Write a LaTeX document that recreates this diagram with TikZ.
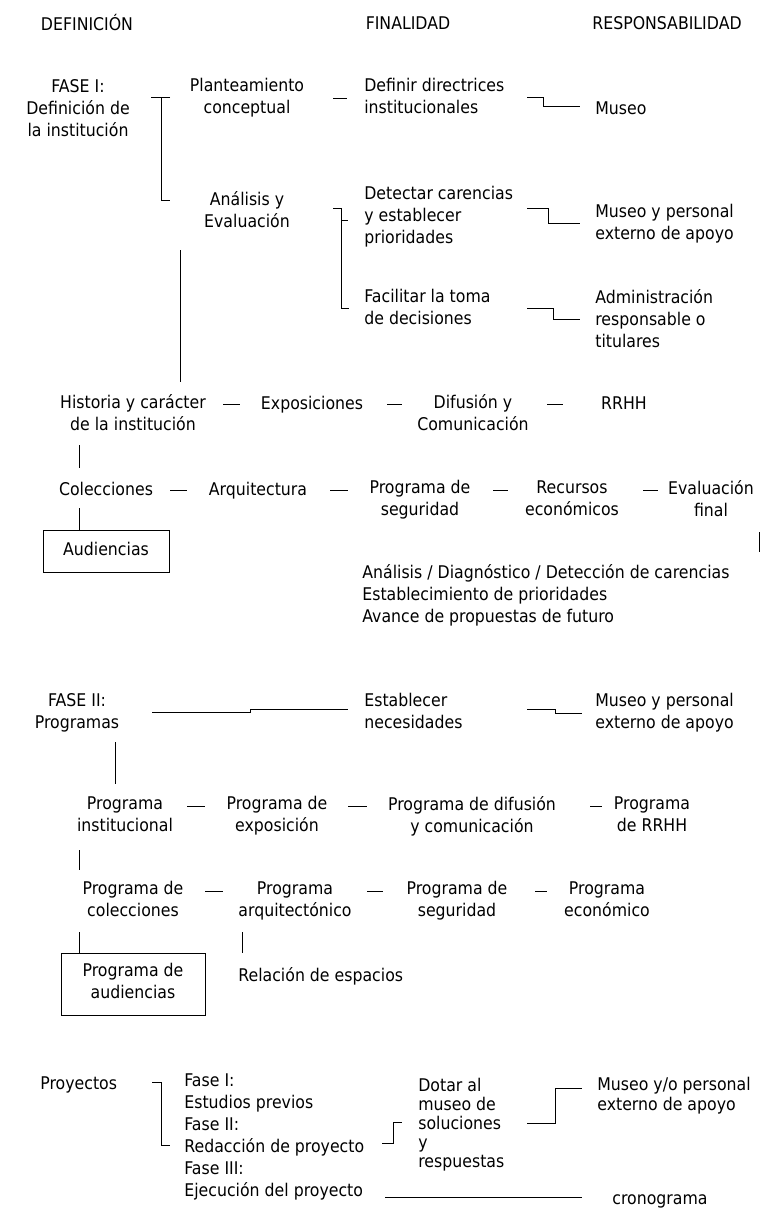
\documentclass[tikz,border=0pt]{standalone}
\usepackage{fontspec}
\setmainfont{DejaVu Sans}[FakeStretch=0.9]

\begin{document}
\begin{tikzpicture}[x=1pt, y=-1pt, line width=0.7pt,
    txt/.style={inner sep=0pt, font=\fontsize{17.5}{22}\selectfont, execute at begin node=\strut},
    mid/.style={txt, anchor=north, align=center},
    lft/.style={txt, anchor=north west, align=left},
    boxnode/.style={txt, draw, line width=1pt, anchor=center, align=center}]
        \useasboundingbox (0,0) rectangle (761,1218);

        % Column headings
        \node[mid] (hdef) at (87,14) {DEFINICIÓN};
        \node[mid] (hfin) at (408,14) {FINALIDAD};
        \node[mid] (hres) at (667,14) {RESPONSABILIDAD};

        % FASE I
        \node[mid] (fase1) at (78,79) {FASE I:\\Definición de\\la institución};
        \node[mid] (plant) at (247,78) {Planteamiento\\conceptual};
        \node[lft] (definir) at (364,78) {Definir directrices\\institucionales};
        \node[lft] (museo1) at (595,99) {Museo};
        \node[mid] (analisis) at (247,191) {Análisis y\\Evaluación};
        \node[lft] (detectar) at (364,186) {Detectar carencias\\y establecer\\prioridades};
        \node[lft] (museo2) at (595,204) {Museo y personal\\externo de apoyo};
        \node[lft] (facilitar) at (364,289) {Facilitar la toma\\de decisiones};
        \node[lft] (admin) at (595,289) {Administración\\responsable o\\titulares};

        \draw ([shift={(73pt,-18pt)}]fase1.north) -- ([shift={(-86pt,-19pt)}]plant.north);
        \draw ([shift={(-77pt,-19pt)}]plant.north) -| ([shift={(-86pt,-9pt)}]analisis.north) -- ([shift={(-77pt,-9pt)}]analisis.north);
        \draw ([shift={(86pt,-20pt)}]plant.north) -- ([shift={(-17pt,-20pt)}]definir.north west);
        \draw ([shift={(163pt,-19pt)}]definir.north west) -- ++(16pt,0) |- ([shift={(-15pt,-7pt)}]museo1.north west);
        \draw ([shift={(86pt,-17pt)}]analisis.north) -| ([shift={(-23pt,-19pt)}]facilitar.north west) -- ([shift={(-15pt,-19pt)}]facilitar.north west);
        \draw ([shift={(-23pt,-34pt)}]detectar.north west) -- ([shift={(-16pt,-34pt)}]detectar.north west);
        \draw ([shift={(163pt,-22pt)}]detectar.north west) -- ++(21pt,0) |- ([shift={(-15pt,-19pt)}]museo2.north west);
        \draw ([shift={(163pt,-19pt)}]facilitar.north west) -- ++(26pt,0) |- ([shift={(-15pt,-30pt)}]admin.north west);

        % Contents of the analysis
        \node[mid] (historia) at (133,394) {Historia y carácter\\de la institución};
        \node[mid] (expo) at (312,394) {Exposiciones};
        \node[mid] (difusion) at (473,394) {Difusión y\\Comunicación};
        \node[mid] (rrhh) at (624,394) {RRHH};
        \node[mid] (colec) at (106,480) {Colecciones};
        \node[mid] (arq) at (258,480) {Arquitectura};
        \node[mid] (seg) at (420,480) {Programa de\\seguridad};
        \node[mid] (recursos) at (572,480) {Recursos\\económicos};
        \node[mid] (evalfin) at (711,480) {Evaluación\\final};
        \node[boxnode, minimum width=126pt, minimum height=42pt] (aud) at (106,551) {Audiencias};
        \node[lft] (diag) at (362,564) {Análisis / Diagnóstico / Detección de carencias\\Establecimiento de prioridades\\Avance de propuestas de futuro};

        \draw ([shift={(-67pt,-59pt)}]analisis.north) -- ([shift={(47pt,12pt)}]historia.north);
        \draw ([shift={(90pt,-10pt)}]historia.north) -- ([shift={(-72pt,-10pt)}]expo.north);
        \draw ([shift={(75pt,-10pt)}]expo.north) -- ([shift={(-71pt,-10pt)}]difusion.north);
        \draw ([shift={(74pt,-10pt)}]difusion.north) -- ([shift={(-61pt,-10pt)}]rrhh.north);
        \draw ([shift={(-54pt,-51pt)}]historia.north) -- ([shift={(-27pt,12pt)}]colec.north);
        \draw ([shift={(64pt,-10pt)}]colec.north) -- ([shift={(-71pt,-10pt)}]arq.north);
        \draw ([shift={(72pt,-10pt)}]arq.north) -- ([shift={(-72pt,-10pt)}]seg.north);
        \draw ([shift={(73pt,-10pt)}]seg.north) -- ([shift={(-64pt,-10pt)}]recursos.north);
        \draw ([shift={(71pt,-10pt)}]recursos.north) -- ([shift={(-53pt,-10pt)}]evalfin.north);
        \draw ([shift={(-27pt,-28pt)}]colec.north) -- ([xshift=-27pt]aud.north);
        \draw ([shift={(48pt,-52pt)}]evalfin.north) -- ([shift={(397pt,12pt)}]diag.north west);

        % FASE II
        \node[mid] (fase2) at (77,693) {FASE II:\\Programas};
        \node[lft] (estab) at (364,693) {Establecer\\necesidades};
        \node[lft] (museo3) at (595,693) {Museo y personal\\externo de apoyo};
        \node[mid] (pinst) at (125,796) {Programa\\institucional};
        \node[mid] (pexpo) at (277,796) {Programa de\\exposición};
        \node[mid] (pdif) at (472,796) {Programa de difusión\\y comunicación};
        \node[mid] (prrhh) at (652,796) {Programa\\de RRHH};
        \node[mid] (pcol) at (133,881) {Programa de\\colecciones};
        \node[mid] (parq) at (295,881) {Programa\\arquitectónico};
        \node[mid] (pseg) at (457,881) {Programa de\\seguridad};
        \node[mid] (peco) at (607,881) {Programa\\económico};
        \node[boxnode, minimum width=144pt, minimum height=62pt] (paud) at (133,984) {Programa de\\audiencias};
        \node[lft] (relesp) at (238,966) {Relación de espacios};

        \draw ([shift={(75pt,-19pt)}]fase2.north) -- ++(98pt,0) |- ([shift={(-16pt,-16pt)}]estab.north west);
        \draw ([shift={(163pt,-16pt)}]estab.north west) -- ++(28pt,0) |- ([shift={(-13pt,-20pt)}]museo3.north west);
        \draw ([shift={(38pt,-49pt)}]fase2.north) -- ([shift={(-10pt,12pt)}]pinst.north);
        \draw ([shift={(62pt,-10pt)}]pinst.north) -- ([shift={(-72pt,-10pt)}]pexpo.north);
        \draw ([shift={(71pt,-10pt)}]pexpo.north) -- ([shift={(-105pt,-10pt)}]pdif.north);
        \draw ([shift={(118pt,-10pt)}]pdif.north) -- ([shift={(-50pt,-10pt)}]prrhh.north);
        \draw ([shift={(-46pt,-54pt)}]pinst.north) -- ([shift={(-54pt,11pt)}]pcol.north);
        \draw ([shift={(72pt,-10pt)}]pcol.north) -- ([shift={(-72pt,-10pt)}]parq.north);
        \draw ([shift={(72pt,-10pt)}]parq.north) -- ([shift={(-74pt,-10pt)}]pseg.north);
        \draw ([shift={(78pt,-10pt)}]pseg.north) -- ([shift={(-60pt,-10pt)}]peco.north);
        \draw ([shift={(-54pt,-51pt)}]pcol.north) -- ([xshift=-54pt]paud.north);
        \draw ([shift={(-53pt,-51pt)}]parq.north) -- ([shift={(4pt,13pt)}]relesp.north west);

        % Proyectos
        \node[lft] (proy) at (40,1074) {Proyectos};
        \node[lft] (fases) at (184,1073) {Fase I:\\Estudios previos\\Fase II:\\Redacción de proyecto\\Fase III:\\Ejecución del proyecto};
        \node[lft, font=\fontsize{17.5}{19}\selectfont] (dotar) at (418,1078) {Dotar al\\museo de\\soluciones\\y\\respuestas};
        \node[lft, font=\fontsize{17.5}{20}\selectfont] (museo4) at (597,1077) {Museo y/o personal\\externo de apoyo};
        \node[mid] (crono) at (660,1189) {cronograma};

        \draw ([shift={(112pt,-8pt)}]proy.north west) -| ([shift={(-23pt,-72pt)}]fases.north west) -- ([shift={(-14pt,-72pt)}]fases.north west);
        \draw ([shift={(198pt,-70pt)}]fases.north west) -- ++(11pt,0) |- ([shift={(-16pt,-44pt)}]dotar.north west);
        \draw ([shift={(109pt,-45pt)}]dotar.north west) -- ++(28pt,0) |- ([shift={(-15pt,-11pt)}]museo4.north west);
        \draw ([shift={(201pt,-124pt)}]fases.north west) -- ([shift={(-78pt,-8pt)}]crono.north);
\end{tikzpicture}
\end{document}
